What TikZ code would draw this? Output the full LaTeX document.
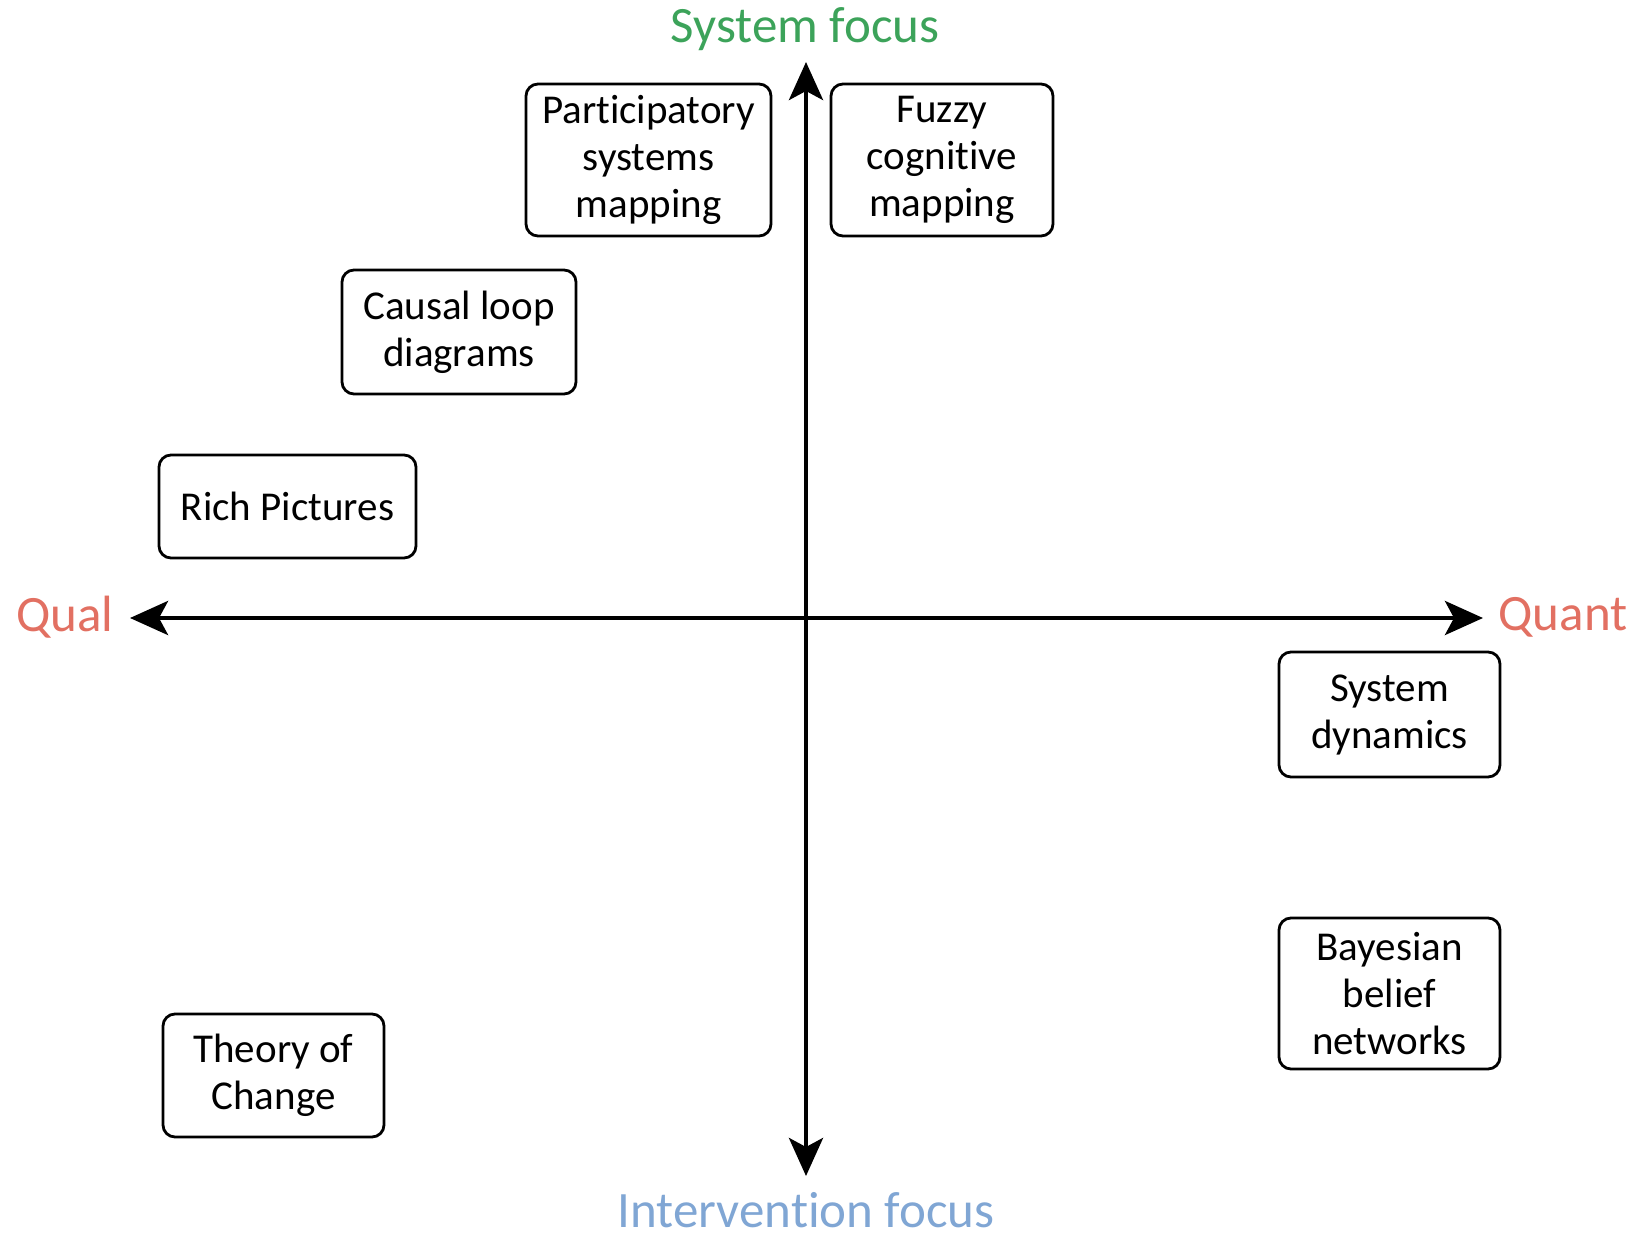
\documentclass[tikz,border=0pt]{standalone}
\usepackage{fontspec}
\setmainfont{Carlito}[Ligatures=NoCommon]
\usetikzlibrary{arrows.meta}
\definecolor{sysgreen}{RGB}{60,163,90}
\definecolor{qualred}{RGB}{226,112,98}
\definecolor{intblue}{RGB}{128,166,212}
\newcommand{\tiX}{t\kern0pt i}
\begin{document}
\begin{tikzpicture}[x=1pt,y=-1pt,
  method/.style={draw=black, line width=2.8pt, rounded corners=12pt, align=center,
     font=\fontsize{41}{47}\selectfont, inner sep=0pt},
  axlabel/.style={font=\fontsize{51}{58}\selectfont, inner sep=0pt},
  axis/.style={line width=4.5pt, -{Stealth[length=38pt,width=34pt,inset=9pt]}}]
\useasboundingbox (0,0) rectangle (1639,1233);
% axes
\coordinate (c) at (806,618);
\coordinate (top) at (806,62);
\coordinate (bot) at (806,1176);
\coordinate (left) at (130,618);
\coordinate (right) at (1483,618);
\draw[axis] (c) -- (top);
\draw[axis] (c) -- (bot);
\draw[axis] (c) -- (left);
\draw[axis] (c) -- (right);
% labels
\node[axlabel, text=sysgreen] (sf) at (805,29) {System focus};
\node[axlabel, text=qualred] (ql) at (65,617) {Qual};
\node[axlabel, text=qualred] (qn) at (1563,617) {Quant};
\node[axlabel, text=intblue] (if) at (806,1210) {Interven\tiX on focus};
% boxes
\node[method, minimum width=245pt, minimum height=152pt] (psm) at (648.5,160) {Par\tiX cipatory\\systems\\mapping};
\node[method, minimum width=222pt, minimum height=152pt] (fcm) at (942,160) {Fuzzy\\cogni\tiX ve\\mapping};
\node[method, minimum width=234pt, minimum height=124pt] (cld) at (459,332) {Causal loop\\diagrams};
\node[method, minimum width=257pt, minimum height=103pt] (rp) at (287.5,506.5) {Rich Pictures};
\node[method, minimum width=221pt, minimum height=125pt] (sd) at (1389.5,714.5) {System\\dynamics};
\node[method, minimum width=221pt, minimum height=151pt] (bbn) at (1389.5,993.5) {Bayesian\\belief\\networks};
\node[method, minimum width=221pt, minimum height=123pt] (toc) at (273.5,1075.5) {Theory of\\Change};
\end{tikzpicture}
\end{document}
